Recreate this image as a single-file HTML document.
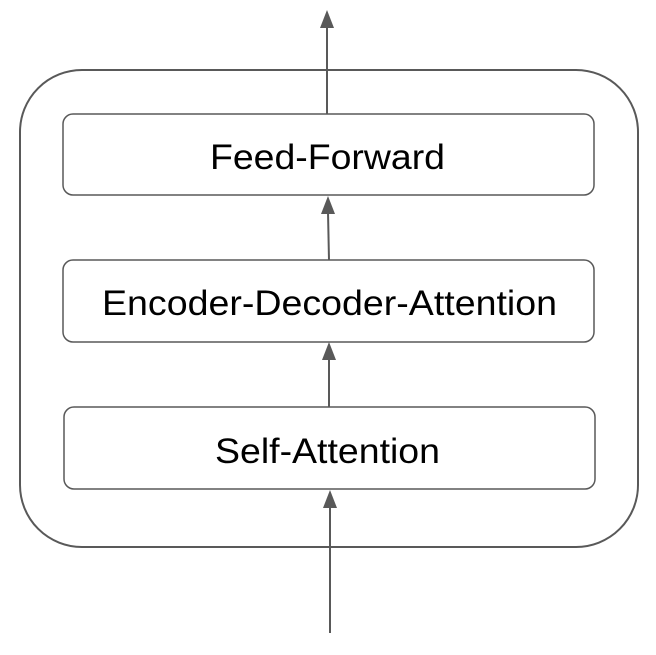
<!DOCTYPE html>
<html><head><style>
html,body{margin:0;padding:0;background:#fff;}
svg{display:block;}
text{font-family:"Liberation Sans",Arial,sans-serif;font-size:35px;fill:#000;}
</style></head><body>
<svg width="656" height="655" viewBox="0 0 656 655">
<rect x="20" y="70" width="618" height="477" rx="62" fill="none" stroke="#595959" stroke-width="2"/>
<rect x="63" y="114" width="531" height="81" rx="10" fill="#fff" stroke="#595959" stroke-width="1.5"/>
<rect x="63" y="260" width="531" height="82" rx="10" fill="#fff" stroke="#595959" stroke-width="1.5"/>
<rect x="64" y="407" width="531" height="82" rx="10" fill="#fff" stroke="#595959" stroke-width="1.5"/>
<text x="210" y="169" textLength="235" lengthAdjust="spacingAndGlyphs">Feed-Forward</text>
<text x="102" y="315" textLength="455" lengthAdjust="spacingAndGlyphs">Encoder-Decoder-Attention</text>
<text x="215" y="463" textLength="225" lengthAdjust="spacingAndGlyphs">Self-Attention</text>
<g stroke="#595959" stroke-width="2" fill="#595959">
<line x1="327" y1="114" x2="327" y2="26"/><polygon points="320,28 334,28 327,10" stroke="none"/>
<line x1="329" y1="260" x2="328" y2="212"/><polygon points="321,214 335,214 328,196" stroke="none"/>
<line x1="329" y1="407" x2="329" y2="358"/><polygon points="322,360 336,360 329,342" stroke="none"/>
<line x1="330" y1="633" x2="330" y2="506"/><polygon points="323,508 337,508 330,490" stroke="none"/>
</g>
</svg>
</body></html>
